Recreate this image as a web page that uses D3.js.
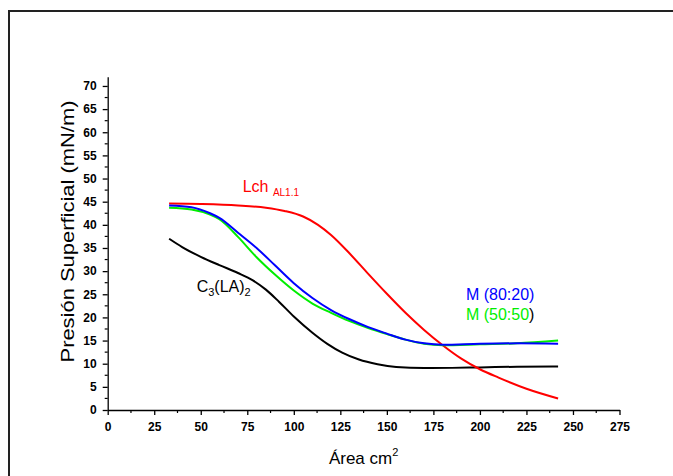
<!DOCTYPE html>
<html><head><meta charset="utf-8">
<script src="https://cdn.jsdelivr.net/npm/d3@7"></script>
<style>html,body{margin:0;background:#fff;overflow:hidden}svg{display:block}text{font-family:"Liberation Sans",Arial,sans-serif}</style>
</head><body><svg id="c" width="673" height="476"></svg>
<script>
const xTicks = [0,25,50,75,100,125,150,175,200,225,250,275];
const yTicks = [0,5,10,15,20,25,30,35,40,45,50,55,60,65,70];
const lchX = [33,50,70,85,95,105,113,120,130,140,150,160,170,180,190,200,210,225,242];
const lchY = [44.6,44.5,44.2,43.7,43.0,41.8,40.0,37.8,33.8,29.4,25.1,21.0,17.3,14.0,11.1,8.8,7.0,4.6,2.5];
const m8020X = [33,45,55,60,70,80,90,100,110,120,130,140,150,160,170,180,200,220,242];
const m8020Y = [44.2,43.8,42.5,41.5,38.3,35.0,31.2,27.4,24.2,21.6,19.6,17.9,16.5,15.2,14.4,14.1,14.3,14.4,14.3];
const m5050X = [33,45,55,60,70,80,90,100,110,120,130,140,150,160,170,180,200,220,242];
const m5050Y = [43.7,43.3,42.2,41.2,37.4,33.0,29.2,25.8,23.0,21.0,19.2,17.7,16.4,15.2,14.3,14.0,14.2,14.4,15.0];
const c3X = [33,40,50,60,70,78,85,92,100,110,118,126,135,145,155,170,185,200,220,242];
const c3Y = [37.0,35.2,33.1,31.3,29.6,28.0,26.0,23.4,20.2,16.7,14.3,12.4,10.9,9.9,9.3,9.05,9.1,9.2,9.35,9.4];
const series = [
  {name:"C3(LA)2", xs:c3X, ys:c3Y, color:"#000000"},
  {name:"Lch", xs:lchX, ys:lchY, color:"#ff0000"},
  {name:"M (50:50)", xs:m5050X, ys:m5050Y, color:"#00ee00"},
  {name:"M (80:20)", xs:m8020X, ys:m8020Y, color:"#0000ff"}
];

const svg = d3.select("#c");
// outer frame (only top and left edges fall inside the picture)
svg.append("line").attr("x1",9).attr("x2",673).attr("y1",11).attr("y2",11).attr("stroke","#222").attr("stroke-width",2);
svg.append("line").attr("x1",9).attr("x2",9).attr("y1",10).attr("y2",476).attr("stroke","#222").attr("stroke-width",2);

const x = d3.scaleLinear().domain([0,275]).range([107.7,619.5]);
const y = d3.scaleLinear().domain([0,72]).range([410,76.7]);

const gx = svg.append("g").attr("transform","translate(0,410)")
  .call(d3.axisBottom(x).tickValues(xTicks).tickSize(5).tickPadding(7).tickSizeOuter(0).tickFormat(d3.format("d")));
const gy = svg.append("g").attr("transform","translate(107.7,0)")
  .call(d3.axisLeft(y).tickValues(yTicks).tickSize(5).tickPadding(6).tickSizeOuter(0).tickFormat(d3.format("d")));
[gx,gy].forEach(g=>{
  g.selectAll("text").attr("font-size",12).attr("font-weight","bold").attr("fill","#000")
   .style("font-family","'Liberation Sans',Arial,sans-serif");
  g.selectAll("line,path").attr("stroke","#000").attr("stroke-width",1.3);
});
// minor ticks
const xMinor = d3.range(12.5,275,25);
svg.append("g").selectAll("line").data(xMinor).join("line")
  .attr("x1",d=>x(d)).attr("x2",d=>x(d)).attr("y1",410).attr("y2",413).attr("stroke","#000").attr("stroke-width",1.2);
const yMinor = d3.range(2.5,72,5);
svg.append("g").selectAll("line").data(yMinor).join("line")
  .attr("y1",d=>y(d)).attr("y2",d=>y(d)).attr("x1",107.7).attr("x2",104.7).attr("stroke","#000").attr("stroke-width",1.2);

const line = d3.line().x(d=>x(d[0])).y(d=>y(d[1])).curve(d3.curveMonotoneX);
series.forEach(s=>{
  svg.append("path").datum(s.xs.map((v,i)=>[v,s.ys[i]]))
    .attr("d",line).attr("fill","none").attr("stroke",s.color).attr("stroke-width",2);
});

// axis titles
const xl = svg.append("text").attr("x",x(137.5)).attr("y",464).attr("text-anchor","middle").attr("font-size",17);
xl.append("tspan").text("Área cm");
xl.append("tspan").attr("font-size",11).attr("dy",-8).text("2");
svg.append("text").attr("transform","translate(74,231.5) rotate(-90)").attr("text-anchor","middle")
  .attr("font-size",18).attr("textLength",262).attr("lengthAdjust","spacingAndGlyphs")
  .text("Presión Superficial (mN/m)");

// annotations
const t1 = svg.append("text").attr("x",x(72.5)).attr("y",y(47.1)).attr("font-size",16).attr("fill","#ff0000");
t1.append("tspan").text("Lch ");
t1.append("tspan").attr("font-size",10).attr("dy",4).text("AL1.1");
const t2 = svg.append("text").attr("x",x(47.8)).attr("y",y(25.5)).attr("font-size",16).attr("fill","#000");
t2.append("tspan").text("C");
t2.append("tspan").attr("font-size",11).attr("dy",4).text("3");
t2.append("tspan").attr("dy",-4).text("(LA)");
t2.append("tspan").attr("font-size",11).attr("dy",4).text("2");
svg.append("text").attr("x",x(192.5)).attr("y",y(23.8)).attr("font-size",16).attr("fill","#0000ff").text("M (80:20)");
const t4 = svg.append("text").attr("x",x(192.5)).attr("y",y(19.4)).attr("font-size",16).attr("fill","#00ee00");
t4.append("tspan").text("M (50:50");
t4.append("tspan").attr("fill","#000").text(")");
</script></body></html>
